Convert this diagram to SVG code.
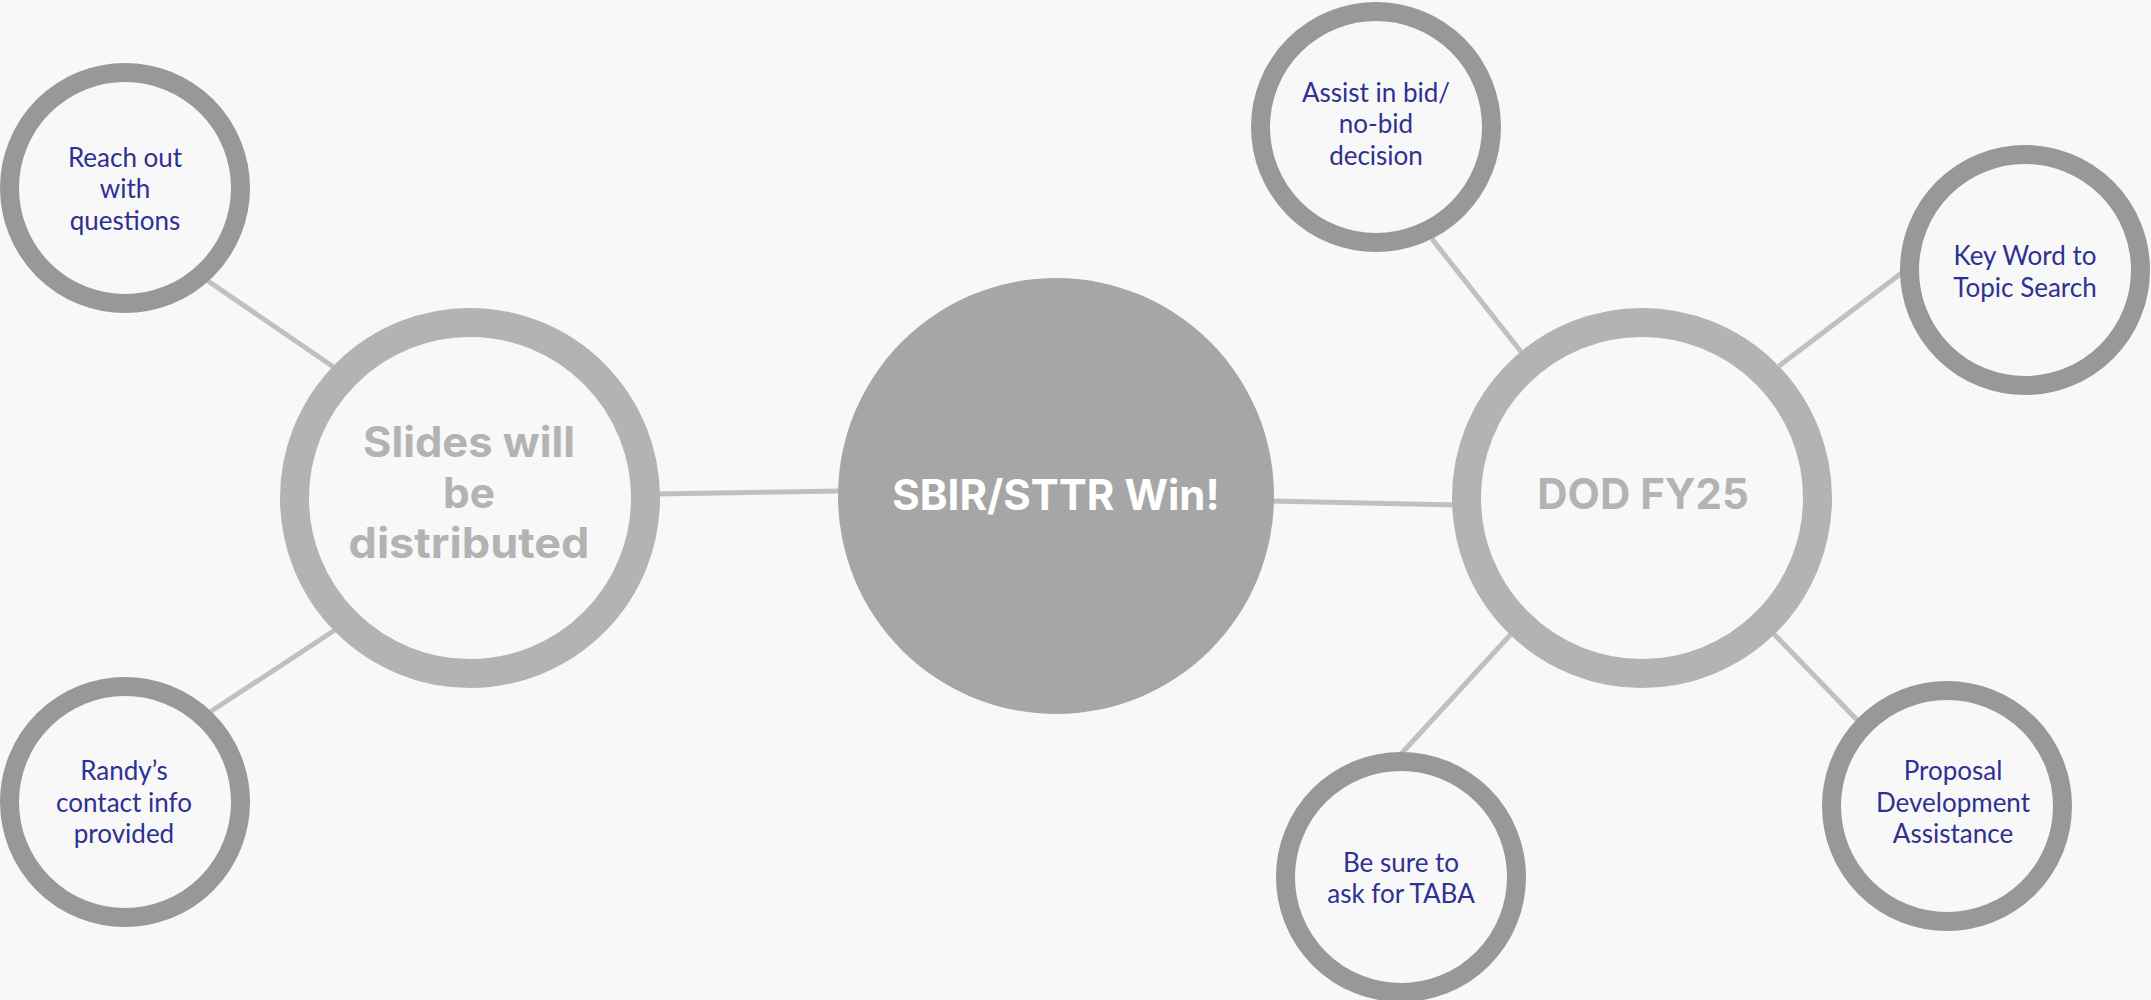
<svg xmlns="http://www.w3.org/2000/svg" width="2151" height="1000" viewBox="0 0 2151 1000">
<style>
.bg{fill:#f8f8f8}
.conn{stroke:#c0c0c0;stroke-width:5;fill:none}
.small{fill:#f8f8f8;stroke:#989898;stroke-width:19}
.mid{fill:#f8f8f8;stroke:#b3b3b3;stroke-width:29}
.core{fill:#a6a6a6}
.lbl{font-family:Lato,"Open Sans","Liberation Sans",sans-serif;font-size:26px;fill:#2e3192;text-anchor:middle}
.big{font-family:Inter,"Open Sans","Liberation Sans",sans-serif;font-weight:700;font-size:42px;text-anchor:middle}
</style>
<rect class="bg" x="0" y="0" width="2151" height="1000"/>
<g id="connectors">
<line class="conn" x1="208" y1="281" x2="335" y2="368"/>
<line class="conn" x1="210" y1="712" x2="335" y2="630"/>
<line class="conn" x1="655" y1="494" x2="842" y2="491"/>
<line class="conn" x1="1270" y1="501" x2="1458" y2="505"/>
<line class="conn" x1="1432" y1="239" x2="1522" y2="353"/>
<line class="conn" x1="1779" y1="366" x2="1903" y2="272"/>
<line class="conn" x1="1512" y1="633" x2="1401" y2="754"/>
<line class="conn" x1="1772" y1="632" x2="1859" y2="722"/>
</g>
<g id="node-center">
<circle class="core" cx="1056" cy="496" r="218"/>
<text class="big" x="1056" y="510" fill="#ffffff">SBIR/STTR Win!</text>
</g>
<g id="node-slides">
<circle class="mid" cx="470" cy="498" r="175.5"/>
<text class="big" fill="#b3b3b3"><tspan x="469" y="457" textLength="212" lengthAdjust="spacingAndGlyphs">Slides will</tspan><tspan x="469" y="508" textLength="52" lengthAdjust="spacingAndGlyphs">be</tspan><tspan x="469" y="558" textLength="241" lengthAdjust="spacingAndGlyphs">distributed</tspan></text>
</g>
<g id="node-dod">
<circle class="mid" cx="1642" cy="498" r="175.5"/>
<text class="big" x="1643" y="509" fill="#b3b3b3">DOD FY25</text>
</g>
<g id="node-reach">
<circle class="small" cx="125" cy="188" r="115.5"/>
<text class="lbl"><tspan x="125" y="167">Reach out</tspan><tspan x="125" y="198">with</tspan><tspan x="125" y="230">questions</tspan></text>
</g>
<g id="node-randy">
<circle class="small" cx="125" cy="802" r="115.5"/>
<text class="lbl"><tspan x="124" y="780">Randy’s</tspan><tspan x="124" y="812">contact info</tspan><tspan x="124" y="843">provided</tspan></text>
</g>
<g id="node-assist">
<circle class="small" cx="1376" cy="127" r="115.5"/>
<text class="lbl"><tspan x="1376" y="102">Assist in bid/</tspan><tspan x="1376" y="133">no-bid</tspan><tspan x="1376" y="165">decision</tspan></text>
</g>
<g id="node-keyword">
<circle class="small" cx="2025" cy="270" r="115.5"/>
<text class="lbl"><tspan x="2025" y="265">Key Word to</tspan><tspan x="2025" y="297">Topic Search</tspan></text>
</g>
<g id="node-taba">
<circle class="small" cx="1401" cy="877" r="115.5"/>
<text class="lbl"><tspan x="1401" y="872">Be sure to</tspan><tspan x="1401" y="903">ask for TABA</tspan></text>
</g>
<g id="node-proposal">
<circle class="small" cx="1947" cy="806" r="115.5"/>
<text class="lbl"><tspan x="1953" y="780">Proposal</tspan><tspan x="1953" y="812">Development</tspan><tspan x="1953" y="843">Assistance</tspan></text>
</g>
</svg>
